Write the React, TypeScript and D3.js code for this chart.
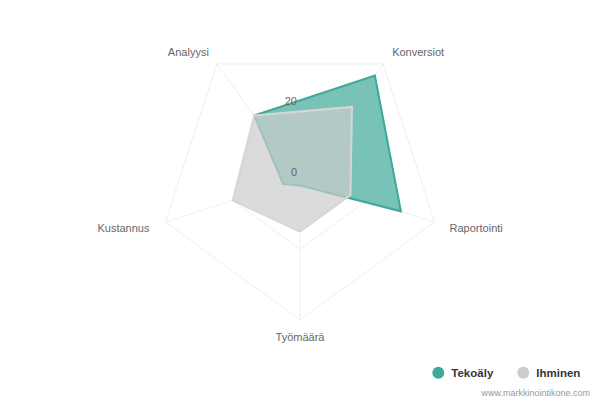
import React from "react";
import * as d3 from "d3";

const axes = ["Analyysi", "Konversiot", "Raportointi", "Työmäärä", "Kustannus"];
const tekoaly = [22, 36, 30, 2, 5];
const ihminen = [22, 25, 15, 15, 20];
const seriesNames = ["Tekoäly", "Ihminen"];
const seriesColors = ["#3ea89a", "#cccccc"];
const gridLevels = [20, 40];
const tickLabels = [0, 20];
const maxValue = 40;

const W = 600;
const H = 400;
const cx = 300;
const cy = 178.5;
const R = 141.5;
const FONT = "'Liberation Sans', Arial, Helvetica, sans-serif";

export default function App() {
  const r = d3.scaleLinear().domain([0, maxValue]).range([0, R]);
  const step = (2 * Math.PI) / axes.length;
  const angle = (i: number) => -Math.PI / 5 + i * step;
  const pt = (i: number, rad: number): [number, number] => [
    cx + rad * Math.sin(angle(i)),
    cy - rad * Math.cos(angle(i)),
  ];

  const radial = d3
    .lineRadial<number>()
    .angle((_, i) => angle(i))
    .radius((v) => r(v))
    .curve(d3.curveLinearClosed);

  const gridPath = (lvl: number) => radial(axes.map(() => lvl)) as string;

  // label layout: anchor and offsets relative to outer vertex
  const labelCfg = [
    { anchor: "end", dx: -8, dy: -8 },
    { anchor: "start", dx: 9, dy: -8 },
    { anchor: "start", dx: 15, dy: 10 },
    { anchor: "middle", dx: 0, dy: 21 },
    { anchor: "end", dx: -16, dy: 10 },
  ];

  return (
    <div style={{ position: "absolute", left: 0, top: 0 }}>
      <svg width={W} height={H} style={{ display: "block", background: "#fff" }}>
        <g>
          {gridLevels.map((lvl) => (
            <path
              key={lvl}
              d={gridPath(lvl)}
              transform={`translate(${cx},${cy})`}
              fill="none"
              stroke="#efefef"
              strokeWidth={1}
            />
          ))}
          {axes.map((a, i) => {
            const [x, y] = pt(i, R);
            return <line key={a} x1={cx} y1={cy} x2={x} y2={y} stroke="#efefef" strokeWidth={1} />;
          })}
        </g>
        <g transform={`translate(${cx},${cy})`}>
          <path
            d={radial(tekoaly) as string}
            fill={seriesColors[0]}
            fillOpacity={0.7}
            stroke={seriesColors[0]}
            strokeWidth={2}
            strokeLinejoin="miter"
          />
          <path
            d={radial(ihminen) as string}
            fill={seriesColors[1]}
            fillOpacity={0.7}
            stroke="#d6d6d6"
            strokeWidth={2}
            strokeLinejoin="miter"
          />
        </g>
        <g fontFamily={FONT} fontSize={11} fill="#666">
          {tickLabels.map((t) => (
            <text key={t} x={cx - 3} y={cy - r(t) - 2.5} textAnchor="end">
              {t}
            </text>
          ))}
        </g>
        <g fontFamily={FONT} fontSize={11} fill="#666">
          {axes.map((a, i) => {
            const [x, y] = pt(i, R);
            const c = labelCfg[i];
            return (
              <text key={a} x={x + c.dx} y={y + c.dy} textAnchor={c.anchor as any}>
                {a}
              </text>
            );
          })}
        </g>
        <g fontFamily={FONT} fontSize={11.5} fontWeight="bold" fill="#333">
          {seriesNames.map((n, i) => {
            const x0 = 438.3 + i * 85;
            return (
              <g key={n}>
                <circle cx={x0} cy={372.7} r={6} fill={seriesColors[i]} />
                <text x={x0 + 13} y={377}>
                  {n}
                </text>
              </g>
            );
          })}
        </g>
        <text x={590} y={396} textAnchor="end" fontFamily={FONT} fontSize={9} fill="#999">
          www.markkinointikone.com
        </text>
      </svg>
    </div>
  );
}
